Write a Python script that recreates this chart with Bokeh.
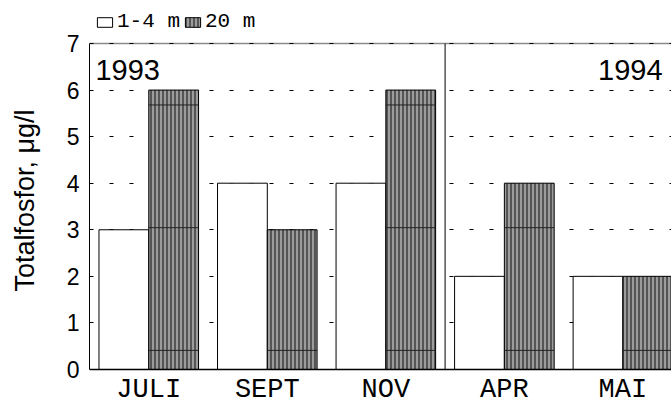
from bokeh.plotting import figure
from bokeh.models import Legend, LegendItem, FixedTicker, Span
from bokeh.embed import file_html
from bokeh.resources import INLINE
from bokeh.core.properties import value

# ---- data ----
months = ["JULI", "SEPT", "NOV", "APR", "MAI"]
shallow_1_4m = [3, 4, 4, 2, 2]
deep_20m = [6, 3, 6, 4, 2]
years = ["1993", "1994"]
year_split_index = 3          # first month of 1994
y_ticks = [0, 1, 2, 3, 4, 5, 6, 7]
legend_labels = ["1-4 m", "20 m"]
y_label = "Totalfosfor, μg/l"

# ---- layout / style constants ----
X_START, X_END = -0.5, 4.41
Y_MAX = 7
Y_BOTTOM_PAD = 0.666
Y_TOP_PAD = 0.923
BAR_W = 0.42
MONTH_LABEL_Y = -0.44
YEAR_LABEL_Y = 6.44
STRIPE_Y0, STRIPE_STEP = 0.41, 2.635

idx = list(range(len(months)))

p = figure(width=671, height=400, output_backend="svg", toolbar_location=None,
           x_range=(X_START, X_END), y_range=(-Y_BOTTOM_PAD, Y_MAX + Y_TOP_PAD),
           x_axis_location=None, min_border_left=89, min_border_right=0,
           min_border_top=0, min_border_bottom=0)
p.outline_line_color = None
p.background_fill_color = "white"
p.border_fill_color = "white"

# grid
p.xgrid.visible = False
p.ygrid.ticker = FixedTicker(ticks=y_ticks)
p.ygrid.grid_line_color = "black"
p.ygrid.grid_line_dash = "4 16"
p.ygrid.grid_line_width = 1

# top frame line (gray, under grid)
top_line = Span(location=Y_MAX, dimension="width", line_color="#8a8a8a", line_width=1.5)
top_line.level = "image"
p.add_layout(top_line)

# y axis
yax = p.yaxis[0]
yax.ticker = FixedTicker(ticks=y_ticks)
yax.bounds = (0, Y_MAX)
yax.axis_line_color = "black"
yax.major_tick_line_color = None
yax.minor_tick_line_color = None
yax.major_tick_out = 0
yax.major_tick_in = 0
yax.minor_tick_out = 0
yax.minor_tick_in = 0
yax.major_label_text_font = "Liberation Sans"
yax.major_label_text_font_size = "23px"
yax.major_label_text_color = "black"
yax.major_label_standoff = 10
yax.axis_label = y_label
yax.axis_label_text_font = "Liberation Sans"
yax.axis_label_text_font_size = "27px"
yax.axis_label_text_font_style = "normal"
yax.axis_label_text_color = "black"
yax.axis_label_standoff = 24

# bars
r_white = p.vbar(x=[i - BAR_W / 2 for i in idx], top=shallow_1_4m, bottom=0, width=BAR_W,
                 fill_color="white", line_color="black", line_width=1)
r_dark = p.vbar(x=[i + BAR_W / 2 for i in idx], top=deep_20m, bottom=0, width=BAR_W,
                fill_color="#9c9c9c", line_color="black", line_width=1,
                hatch_pattern="vertical_line", hatch_color="#555555",
                hatch_weight=2, hatch_scale=4)

# thin horizontal lines inside the striped bars
sx0, sx1, sy = [], [], []
for i, h in zip(idx, deep_20m):
    lvl = STRIPE_Y0
    while lvl < h:
        sx0.append(i)
        sx1.append(i + BAR_W)
        sy.append(lvl)
        lvl += STRIPE_STEP
p.segment(x0=sx0, x1=sx1, y0=sy, y1=sy, line_color="#222222", line_width=1)

# baseline and year divider
base = Span(location=0, dimension="width", line_color="black", line_width=1.5)
p.add_layout(base)
p.segment(x0=[year_split_index - 0.5], x1=[year_split_index - 0.5], y0=[0], y1=[Y_MAX],
          line_color="black", line_width=1)

# month labels
p.text(x=idx, y=[MONTH_LABEL_Y] * len(idx), text=months,
       text_font=value("Liberation Mono"), text_font_size="27px",
       text_align="center", text_baseline="middle", text_color="black")

# year labels
p.text(x=[X_START + 0.05], y=[YEAR_LABEL_Y], text=[years[0]],
       text_font=value("Liberation Sans"), text_font_size="29px",
       text_align="left", text_baseline="middle", text_color="black")
p.text(x=[X_END - 0.075], y=[YEAR_LABEL_Y], text=[years[1]],
       text_font=value("Liberation Sans"), text_font_size="29px",
       text_align="right", text_baseline="middle", text_color="black")

# legend
legend = Legend(items=[LegendItem(label=legend_labels[0], renderers=[r_white]),
                       LegendItem(label=legend_labels[1], renderers=[r_dark])],
                orientation="horizontal", location=(6, 367),
                glyph_width=19, glyph_height=12, label_standoff=3, spacing=3,
                padding=0, margin=0, label_height=12,
                label_text_font="Liberation Mono", label_text_font_size="21px",
                label_text_color="black",
                background_fill_alpha=0, border_line_alpha=0)
p.add_layout(legend)

open("out.html", "w").write(file_html(p, INLINE))
